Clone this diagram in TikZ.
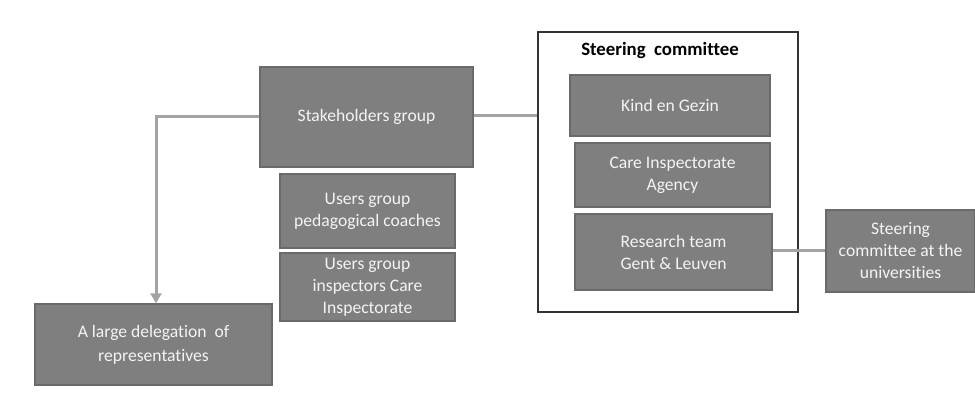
\documentclass[tikz,border=0pt]{standalone}
\usepackage{fontspec}
\setmainfont{Carlito}[Ligatures=CommonOff]
\usetikzlibrary{arrows.meta}
\definecolor{boxfill}{HTML}{7F7F7F}
\definecolor{boxedge}{HTML}{6A6A6A}
\definecolor{linkcol}{HTML}{A3A3A3}
\definecolor{framecol}{HTML}{333333}
\definecolor{boxtext}{HTML}{F4F4F4}
\begin{document}
\begin{tikzpicture}[x=1pt,y=-1pt,
  greybox/.style={draw=boxedge, line width=1.5pt, fill=boxfill, text=boxtext,
    align=center, inner sep=0pt, font=\fontsize{17.6}{22}\selectfont},
  link/.style={draw=linkcol, line width=3pt},
  frame/.style={draw=framecol, line width=1.5pt, inner sep=0pt}]
\useasboundingbox (0,0) rectangle (975,401);
\fill[white] (0,0) rectangle (975,401);

\node[frame, minimum width=260pt, minimum height=280pt] (sc) at (668,172) {};
\node[font=\bfseries\fontsize{18.8}{22}\selectfont, text=black, inner sep=0pt] (sctitle) at (660,50) {Steering\ \ committee};

\node[greybox, minimum width=213pt, minimum height=100pt] (stake) at (366.5,117) {Stakeholders group};
\node[greybox, minimum width=175pt, minimum height=74pt] (ped) at (367.5,211) {Users group\\pedagogical coaches};
\node[greybox, minimum width=175pt, minimum height=68pt] (insp) at (367.5,287) {Users group\\inspectors Care\\Inspectorate};
\node[greybox, minimum width=237pt, minimum height=81pt] (deleg) at (153.5,344.5) {A large delegation\ \ of\\[2pt]representatives};

\node[greybox, minimum width=200pt, minimum height=61pt] (kind) at (670,105.5) {Kind en Gezin};
\node[greybox, minimum width=195pt, minimum height=64pt] (care) at (672.5,175) {Care Inspectorate\\Agency};
\node[greybox, minimum width=197pt, minimum height=76pt] (res) at (673.5,252) {Research team\\Gent \& Leuven};
\node[greybox, minimum width=149pt, minimum height=82pt] (univ) at (900.5,251) {Steering\\committee at the\\universities};

\coordinate (elbow) at (156,117);
\draw[link] (stake.east |- 0,116) -- (sc.west |- 0,116);
\draw[link] (res.east |- 0,250) -- (univ.west |- 0,250);
\draw[link, -{Triangle[length=10pt, width=11pt]}] (stake.west) -- (elbow) -- (elbow |- deleg.north);
\end{tikzpicture}
\end{document}
